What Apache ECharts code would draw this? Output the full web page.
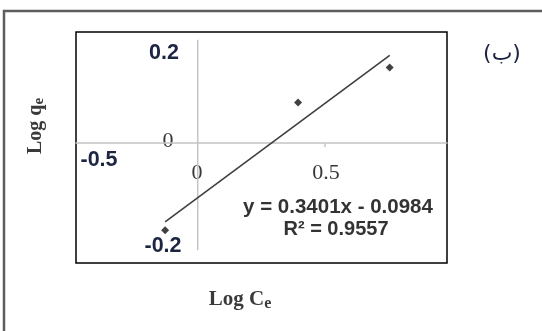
<!DOCTYPE html>
<html>
<head>
<meta charset="utf-8">
<script src="https://cdn.jsdelivr.net/npm/echarts@6/dist/echarts.min.js"></script>
<style>html,body{margin:0;padding:0;background:#fff}#c{width:542px;height:331px}</style>
</head>
<body>
<div id="c"></div>
<script>
// Data
const pointsX = [-0.128, 0.394, 0.754];
const pointsY = [-0.157, 0.073, 0.136];
const trendX = [-0.128, 0.754];
const trendY = [-0.142, 0.158];
const yAxisSpan = [-0.193, 0.186];
const xTickLabels = ['-0.5', '0', '0.5'];
const yTickLabels = ['0.2', '0', '-0.2'];
const equationText = 'y = 0.3401x - 0.0984';
const r2Text = 'R² = 0.9557';
const panelLabel = '(ب)';

const chart = echarts.init(document.getElementById('c'));
const sansBold = {fontFamily: 'Liberation Sans', fontWeight: 'bold', fontSize: 21.5, fill: '#1c2541'};
const serif = {fontFamily: 'Liberation Serif', fontSize: 22, fill: '#383838'};
function txt(text, x, y, st, extra) {
  return Object.assign({type: 'text', x: x, y: y, style: Object.assign({text: text, align: 'center', verticalAlign: 'middle'}, st)}, extra || {});
}
chart.setOption({
  animation: false,
  grid: {left: 76, right: 95, top: 32, bottom: 68, show: true, borderColor: '#000', borderWidth: 1.5, backgroundColor: 'transparent'},
  xAxis: {
    type: 'value', min: -0.478, max: 0.979,
    axisLine: {show: true, onZero: true, lineStyle: {color: '#c4c4c4', width: 1.5}},
    axisTick: {show: true, customValues: [0.5], length: 4, lineStyle: {color: '#c4c4c4', width: 1.5}},
    axisLabel: {show: false}, splitLine: {show: false}
  },
  yAxis: {
    type: 'value', min: -0.216, max: 0.2,
    axisLine: {show: false}, axisTick: {show: false}, axisLabel: {show: false}, splitLine: {show: false}
  },
  series: [
    {type: 'line', data: [[0, yAxisSpan[0]], [0, yAxisSpan[1]]], symbol: 'none', silent: true,
     lineStyle: {color: '#c4c4c4', width: 1.5}},
    {type: 'line', data: trendX.map((x, i) => [x, trendY[i]]), symbol: 'none',
     lineStyle: {color: '#3f3f3f', width: 1.6}},
    {type: 'scatter', data: pointsX.map((x, i) => [x, pointsY[i]]), symbol: 'diamond', symbolSize: 8,
     itemStyle: {color: '#111'}}
  ],
  graphic: [
    {type: 'polyline', shape: {points: [[4, 331], [4, 11], [542, 11]]}, style: {stroke: '#5e5e5e', lineWidth: 2.5, fill: null}},
    txt(yTickLabels[0], 164, 53, sansBold),
    txt(yTickLabels[1], 168, 141, serif),
    txt(yTickLabels[2], 163, 246, sansBold),
    txt(xTickLabels[0], 99, 160, sansBold),
    txt(xTickLabels[1], 197, 173, serif),
    txt(xTickLabels[2], 326, 173, serif),
    txt(equationText, 338, 207, {fontFamily: 'Liberation Sans', fontWeight: 'bold', fontSize: 20.5, fill: '#333'}),
    txt(r2Text, 336, 229, {fontFamily: 'Liberation Sans', fontWeight: 'bold', fontSize: 20, fill: '#333'}),
    txt(panelLabel, 502, 54, {fontFamily: 'DejaVu Sans', fontSize: 22, fill: '#1c2541'}),
    {type: 'text', x: 36, y: 126, rotation: Math.PI / 2,
     style: {text: 'Log q{s|e}', align: 'center', verticalAlign: 'middle', fontFamily: 'Liberation Serif', fontWeight: 'bold', fontSize: 20, fill: '#3a3a3a',
       rich: {s: {fontFamily: 'Liberation Serif', fontWeight: 'bold', fontSize: 15, fill: '#3a3a3a', padding: [7, 0, 0, 0]}}}},
    {type: 'text', x: 240, y: 300,
     style: {text: 'Log C{s|e}', align: 'center', verticalAlign: 'middle', fontFamily: 'Liberation Serif', fontWeight: 'bold', fontSize: 21, fill: '#3a3a3a',
       rich: {s: {fontFamily: 'Liberation Serif', fontWeight: 'bold', fontSize: 16, fill: '#3a3a3a', padding: [8, 0, 0, 0]}}}}
  ]
});
</script>
</body>
</html>
